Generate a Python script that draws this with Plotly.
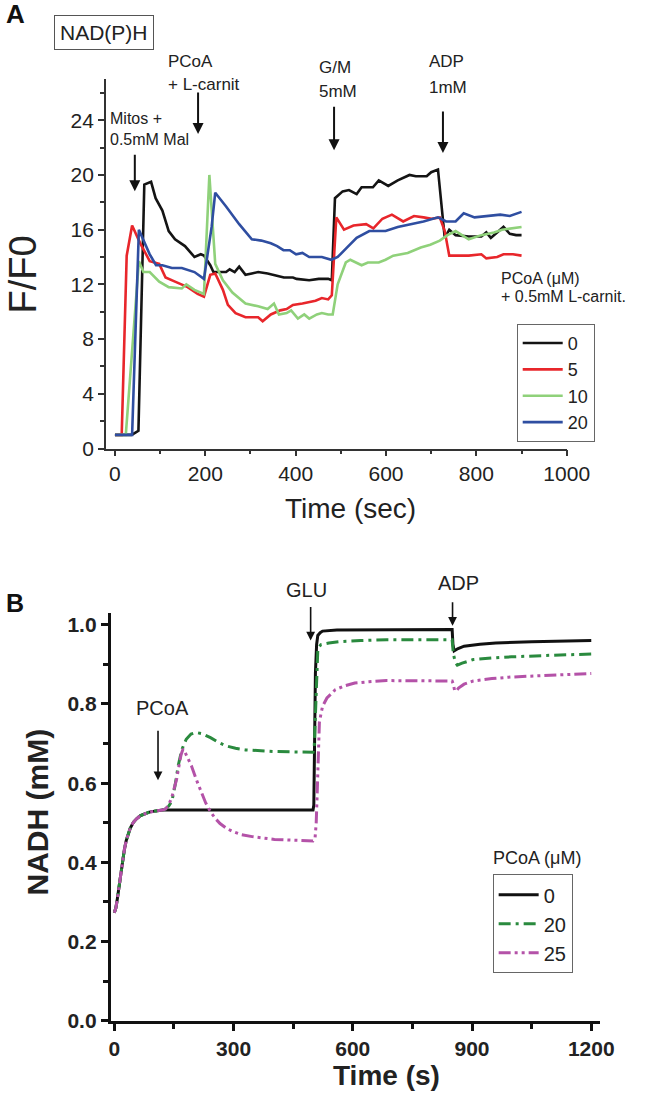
import plotly.graph_objects as go

W, H = 659, 1111
FONT = "Liberation Sans, Arial, sans-serif"

# ---------------- Panel A data (F/F0 vs time) ----------------
a_series = ["0", "5", "10", "20"]
a_colors = ["#141414", "#e8262b", "#8fd17a", "#2f4ea1"]

a_t0 = [0, 37, 52, 65, 80, 90, 105, 119, 133, 155, 176, 190, 197, 211, 218, 232, 246, 254, 265, 275,
        289, 303, 317, 338, 352, 374, 394, 402, 430, 451, 472, 480, 487, 504, 518, 535, 546, 571, 584,
        605, 626, 652, 666, 690, 700, 715, 730, 740, 754, 783, 811, 822, 832, 860, 874, 888, 900]
a_y0 = [1, 1, 1.3, 19.3, 19.5, 18.3, 17.4, 15.9, 15.3, 14.8, 14.0, 14.2, 14.1, 13.4, 12.9, 12.9, 12.9,
        13.1, 12.9, 13.3, 12.7, 12.8, 12.9, 12.8, 12.7, 12.5, 12.5, 12.4, 12.3, 12.4, 12.4, 12.3, 18.3,
        18.8, 18.9, 18.6, 19.1, 19.1, 19.6, 19.2, 19.6, 20.0, 19.9, 19.9, 20.2, 20.4, 15.4, 16.0, 15.6,
        15.5, 15.5, 15.8, 15.4, 16.2, 15.7, 15.6, 15.6]

a_t5 = [0, 15, 26, 38, 56, 77, 98, 112, 133, 161, 183, 197, 211, 222, 239, 250, 267, 289, 317, 327,
        345, 366, 380, 394, 415, 444, 458, 472, 480, 490, 507, 528, 556, 572, 592, 613, 638, 662, 683,
        701, 719, 730, 740, 783, 811, 822, 846, 860, 881, 900]
a_y5 = [1, 1, 14.1, 16.3, 15.0, 13.7, 13.5, 12.5, 12.2, 11.8, 11.3, 11.1, 12.7, 12.8, 11.6, 10.5, 9.9,
        9.6, 9.6, 9.3, 9.8, 10.1, 10.2, 10.5, 10.6, 10.8, 11.0, 10.9, 11.2, 16.9, 16.0, 16.3, 16.4, 16.1,
        16.8, 17.1, 16.6, 17.0, 16.9, 16.8, 16.9, 15.9, 14.1, 14.1, 14.2, 13.9, 14.0, 14.2, 14.2, 14.1]

a_t10 = [0, 24, 53, 63, 77, 98, 119, 148, 158, 176, 197, 209, 222, 239, 260, 289, 317, 338, 352, 363,
         380, 390, 405, 419, 430, 447, 458, 472, 482, 493, 511, 521, 546, 560, 584, 599, 616, 648, 677,
         698, 719, 736, 754, 783, 811, 839, 857, 881, 900]
a_y10 = [1, 1, 13.7, 12.9, 12.9, 12.2, 11.8, 11.7, 12.0, 11.6, 11.3, 20.0, 13.5, 12.3, 11.4, 10.6, 10.4,
         10.2, 10.6, 9.8, 9.9, 10.1, 9.5, 9.8, 9.5, 9.8, 9.9, 9.8, 9.8, 12.0, 13.6, 13.8, 13.4, 13.6,
         13.6, 13.8, 14.1, 14.3, 14.7, 14.9, 15.2, 15.6, 15.9, 15.3, 15.6, 15.8, 16.0, 16.1, 16.2]

a_t20 = [0, 38, 53, 63, 77, 91, 105, 126, 148, 176, 197, 214, 222, 246, 275, 303, 324, 345, 359, 373,
         387, 401, 415, 430, 458, 479, 493, 514, 535, 563, 599, 626, 655, 683, 715, 733, 754, 772, 796,
         825, 853, 874, 900]
a_y20 = [1, 1, 16.0, 15.3, 14.2, 13.4, 13.4, 13.2, 13.2, 12.9, 12.4, 16.2, 18.7, 17.7, 16.4, 15.3, 15.2,
         15.0, 14.8, 14.5, 14.5, 14.2, 14.3, 14.0, 14.0, 13.8, 14.0, 14.7, 15.4, 15.9, 15.9, 16.2, 16.4,
         16.6, 16.9, 16.6, 16.6, 17.2, 16.9, 17.0, 17.1, 17.0, 17.3]

a_x_ticks = [0, 200, 400, 600, 800, 1000]
a_y_ticks = [0, 4, 8, 12, 16, 20, 24]

# ---------------- Panel B data (NADH model) ----------------
b_series = ["0", "20", "25"]
b_colors = ["#111111", "#2a8a3e", "#b452a8"]
b_dash = ["solid", "12px,5px,3px,5px", "12px,4px,3px,4px,3px,4px"]

b_rise_t = [0, 4, 8, 12, 16, 20, 25, 30, 35, 40, 48, 56, 66, 76, 88, 105, 121]
b_rise_y = [0.273, 0.285, 0.31, 0.34, 0.37, 0.40, 0.43, 0.455, 0.473, 0.486, 0.501, 0.51, 0.518, 0.523,
            0.527, 0.53, 0.532]

b_t0 = b_rise_t + [200, 300, 400, 500, 502, 504, 506, 509, 512, 518, 524, 560, 700, 850, 852, 855, 865,
                   880, 920, 960, 1050, 1200]
b_y0 = b_rise_y + [0.532, 0.532, 0.532, 0.532, 0.545, 0.70, 0.878, 0.95, 0.973, 0.98, 0.984, 0.987,
                   0.988, 0.988, 0.95, 0.934, 0.94, 0.946, 0.951, 0.954, 0.957, 0.96]

b_t20 = b_rise_t + [129, 137, 145, 153, 161, 170, 181, 193, 206, 220, 242, 262, 282, 305, 330, 370, 403,
                    450, 500, 503, 506, 508, 510, 512, 516, 520, 540, 564, 620, 685, 850, 853, 858, 863,
                    875, 903, 950, 999, 1100, 1200]
b_y20 = b_rise_y + [0.535, 0.542, 0.555, 0.595, 0.645, 0.685, 0.711, 0.724, 0.728, 0.725, 0.715, 0.703,
                    0.694, 0.688, 0.684, 0.681, 0.68, 0.679, 0.678, 0.69, 0.78, 0.836, 0.9, 0.936, 0.945,
                    0.95, 0.954, 0.957, 0.96, 0.962, 0.962, 0.927, 0.905, 0.898, 0.903, 0.912, 0.916,
                    0.919, 0.923, 0.926]

b_t25 = b_rise_t + [129, 137, 145, 151, 157, 163, 168, 173, 178, 185, 194, 206, 218, 230, 242, 254, 266,
                    282, 298, 320, 347, 375, 403, 450, 500, 505, 508, 510, 512, 514, 516, 520, 524, 535,
                    556, 580, 605, 640, 685, 850, 853, 856, 860, 866, 880, 903, 950, 999, 1100, 1200]
b_y25 = b_rise_y + [0.535, 0.545, 0.565, 0.59, 0.611, 0.645, 0.672, 0.686, 0.678, 0.663, 0.644, 0.61,
                    0.578, 0.55, 0.528, 0.511, 0.498, 0.486, 0.478, 0.47, 0.465, 0.461, 0.458, 0.456,
                    0.454, 0.46, 0.5, 0.56, 0.628, 0.7, 0.753, 0.775, 0.794, 0.815, 0.836, 0.846, 0.853,
                    0.856, 0.859, 0.858, 0.85, 0.835, 0.832, 0.84, 0.85, 0.858, 0.864, 0.868, 0.873,
                    0.877]

b_x_ticks = [0, 300, 600, 900, 1200]
b_y_ticks = [0.0, 0.2, 0.4, 0.6, 0.8, 1.0]


def px(x):
    return x / W


def py(y):
    return 1 - y / H


fig = go.Figure()

for name, col, t, y in zip(a_series, a_colors, [a_t0, a_t5, a_t10, a_t20], [a_y0, a_y5, a_y10, a_y20]):
    fig.add_trace(go.Scatter(x=t, y=y, mode="lines", name=name, line=dict(color=col, width=2.6),
                             xaxis="x", yaxis="y", legend="legend"))

for name, col, dash, t, y in zip(b_series, b_colors, b_dash, [b_t0, b_t20, b_t25], [b_y0, b_y20, b_y25]):
    fig.add_trace(go.Scatter(x=t, y=y, mode="lines", name=name, line=dict(color=col, width=3, dash=dash),
                             xaxis="x2", yaxis="y2", legend="legend2"))

axA = dict(showline=True, linecolor="#333", linewidth=1.5, ticks="outside", ticklen=6, tickwidth=1.5,
           tickcolor="#333", showgrid=False, zeroline=False,
           tickfont=dict(family=FONT, size=21, color="#222"))
axB = dict(showline=True, linecolor="#111", linewidth=2.8, ticks="outside", ticklen=7, tickwidth=2.8,
           tickcolor="#111", showgrid=False, zeroline=False,
           tickfont=dict(family=FONT, size=21, color="#222", weight="bold"))

fig.update_layout(
    width=W, height=H, margin=dict(l=0, r=0, t=0, b=0),
    paper_bgcolor="white", plot_bgcolor="white",
    xaxis=dict(axA, domain=[px(108), px(587)], range=[-20, 1000], tickvals=a_x_ticks,
               minor=dict(dtick=100, ticks="outside", ticklen=4, tickcolor="#333", tickwidth=1.5),
               anchor="y"),
    yaxis=dict(axA, domain=[py(453), py(80)], range=[0, 27], tickvals=a_y_ticks,
               minor=dict(dtick=2, ticks="outside", ticklen=4, tickcolor="#333", tickwidth=1.5),
               anchor="x"),
    xaxis2=dict(axB, domain=[px(113), px(622)], range=[-9, 1223], tickvals=b_x_ticks,
                minor=dict(dtick=150, ticks="outside", ticklen=5, tickcolor="#111", tickwidth=2.8),
                anchor="y2"),
    yaxis2=dict(axB, domain=[py(1031), py(619)], range=[0, 1.03], tickvals=b_y_ticks,
                tickformat=".1f",
                minor=dict(dtick=0.1, ticks="outside", ticklen=5, tickcolor="#111", tickwidth=2.8),
                anchor="x2"),
    legend=dict(x=px(535), y=py(327), xanchor="left", yanchor="top", bgcolor="white",
                bordercolor="#666", borderwidth=1, font=dict(family=FONT, size=18, color="#222"),
                tracegroupgap=0, itemwidth=40),
    legend2=dict(x=px(510), y=py(883), xanchor="left", yanchor="top", bgcolor="white",
                 bordercolor="#666", borderwidth=1, font=dict(family=FONT, size=20, color="#222"),
                 tracegroupgap=0, itemwidth=40),
    showlegend=True,
)

anns = []


def txt(x, y, s, size, bold=False, xanchor="center", color="#222", angle=0):
    anns.append(dict(x=px(x), y=py(y), xref="paper", yref="paper", text=("<b>%s</b>" % s) if bold else s,
                     showarrow=False, xanchor=xanchor, yanchor="middle", textangle=angle,
                     font=dict(family=FONT, size=size, color=color)))


def arrow(xref, yref, x, y, length, width=2.0, size=1.1):
    anns.append(dict(x=x, y=y, xref=xref, yref=yref, ax=0, ay=-length, text="", showarrow=True,
                     arrowhead=2, arrowsize=size, arrowwidth=width, arrowcolor="#111"))


# Panel A labels
txt(2, 14, "A", 26, bold=True, color="#111", xanchor="left")
anns.append(dict(x=px(106), y=py(33), xref="paper", yref="paper", text="NAD(P)H", showarrow=False,
                 xanchor="center", yanchor="middle", font=dict(family=FONT, size=21, color="#222"),
                 bordercolor="#555", borderwidth=1, borderpad=5, bgcolor="white"))
txt(110, 120, "Mitos +", 16, xanchor="left")
txt(110, 141, "0.5mM Mal", 16, xanchor="left")
txt(170, 62, "PCoA", 17, xanchor="left")
txt(170, 85, "+ L-carnit", 17, xanchor="left")
txt(327, 68, "G/M", 17, xanchor="left")
txt(327, 92, "5mM", 17, xanchor="left")
txt(442, 62, "ADP", 17, xanchor="left")
txt(442, 88, "1mM", 17, xanchor="left")
arrow("x", "y", 44, 18.8, 38)
arrow("x", "y", 184, 23.0, 43)
arrow("x", "y", 485, 21.8, 45)
arrow("x", "y", 726, 21.6, 43)
txt(517, 281, "PCoA (\u03bcM)", 16, xanchor="left")
txt(517, 299, "+ 0.5mM L-carnit.", 16, xanchor="left")
txt(362, 514, "Time (sec)", 28)
txt(22, 277, "F/F0", 38, angle=-90)

# Panel B labels
txt(2, 609, "B", 25, bold=True, color="#111", xanchor="left")
txt(167, 715, "PCoA", 20)
txt(317, 596, "GLU", 20)
txt(474, 589, "ADP", 20)
arrow("x2", "y2", 110, 0.6075, 51, width=1.6)
arrow("x2", "y2", 494, 0.96, 35, width=1.6)
arrow("x2", "y2", 851, 0.9975, 25, width=1.6)
txt(508, 867, "PCoA (\u03bcM)", 18, xanchor="left")
txt(400, 1086, "Time (s)", 28, bold=True, color="#222")
txt(37, 820, "NADH (mM)", 30, bold=True, angle=-90, color="#222")

fig.update_layout(annotations=anns)

fig.write_html("out.html", config={"displayModeBar": False},
               post_script="document.body.style.margin='0';")
